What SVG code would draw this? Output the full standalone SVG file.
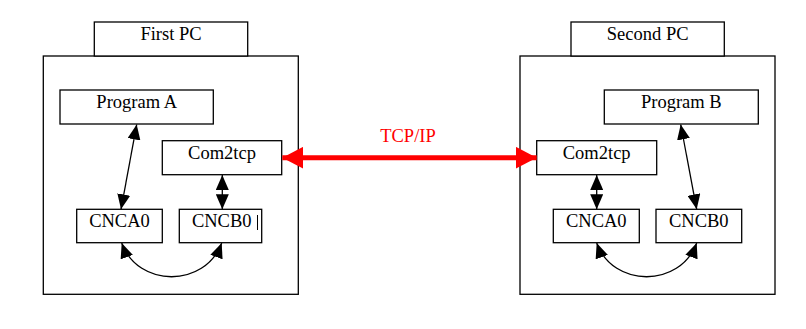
<svg xmlns="http://www.w3.org/2000/svg" width="806" height="329" viewBox="0 0 806 329">
<style>
.box{fill:#fff;stroke:#000;stroke-width:1.3}
.t{font-family:"Liberation Serif","Times New Roman",serif;font-size:18.5px;fill:#000;text-anchor:middle}
.c{fill:none;stroke:#000;stroke-width:1.3}
.tcp{fill:none;stroke:#f00;stroke-width:5}
</style>
<defs>
<marker id="ah" viewBox="0 0 15 13" refX="15" refY="6.5" markerWidth="15" markerHeight="13" markerUnits="userSpaceOnUse" orient="auto-start-reverse">
<path d="M0,0 L15,6.5 L0,13 z" fill="#000"/>
</marker>
<marker id="rh" viewBox="0 0 21 22" refX="21" refY="11" markerWidth="21" markerHeight="22" markerUnits="userSpaceOnUse" orient="auto-start-reverse">
<path d="M0,0 L21,11 L0,22 z" fill="#f00"/>
</marker>
</defs>
<rect width="806" height="329" fill="#fff"/>
<g id="first-pc">
<rect class="box" x="43.3" y="56" width="255" height="238.3"/>
<rect class="box" x="94.3" y="22" width="153.4" height="34"/>
<text class="t" x="171" y="40">First PC</text>
</g>
<g id="program-a">
<rect class="box" x="60" y="90" width="153.3" height="34"/>
<text class="t" x="136.7" y="108.3">Program A</text>
</g>
<g id="com2tcp-1">
<rect class="box" x="162.3" y="140.7" width="119.4" height="34"/>
<text class="t" x="222" y="159.3">Com2tcp</text>
</g>
<g id="cnca0-1">
<rect class="box" x="76.7" y="209.3" width="85.6" height="33.4"/>
<text class="t" x="119.5" y="226.7">CNCA0</text>
</g>
<g id="cncb0-1">
<rect class="box" x="179.3" y="209.3" width="82.4" height="33.4"/>
<text class="t" x="221.7" y="226.7">CNCB0</text>
<line x1="257.5" y1="215" x2="257.5" y2="230" stroke="#000" stroke-width="1"/>
</g>
<g id="second-pc">
<rect class="box" x="520" y="56" width="255" height="238.3"/>
<rect class="box" x="571" y="22" width="153.3" height="34"/>
<text class="t" x="647.7" y="40">Second PC</text>
</g>
<g id="program-b">
<rect class="box" x="604.3" y="90" width="154" height="34"/>
<text class="t" x="681.3" y="108.3">Program B</text>
</g>
<g id="com2tcp-2">
<rect class="box" x="536.7" y="140.7" width="120" height="34"/>
<text class="t" x="596.7" y="159.3">Com2tcp</text>
</g>
<g id="cnca0-2">
<rect class="box" x="553.3" y="209.3" width="86" height="33.4"/>
<text class="t" x="596.3" y="226.7">CNCA0</text>
</g>
<g id="cncb0-2">
<rect class="box" x="656" y="209.3" width="85.7" height="33.4"/>
<text class="t" x="698.8" y="226.7">CNCB0</text>
</g>
<g id="connectors">
<line class="c" x1="136.7" y1="124.5" x2="121" y2="209.3" marker-start="url(#ah)" marker-end="url(#ah)"/>
<line class="c" x1="222.3" y1="175" x2="222.3" y2="209.3" marker-start="url(#ah)" marker-end="url(#ah)"/>
<path class="c" d="M121.7,243 C138,288 205,288 221.7,243" marker-start="url(#ah)" marker-end="url(#ah)"/>
<line class="c" x1="680.7" y1="124.5" x2="696.7" y2="209.3" marker-start="url(#ah)" marker-end="url(#ah)"/>
<line class="c" x1="596.7" y1="175" x2="596.7" y2="209.3" marker-start="url(#ah)" marker-end="url(#ah)"/>
<path class="c" d="M596.7,243 C613,288 680,288 696.7,243" marker-start="url(#ah)" marker-end="url(#ah)"/>
<line class="tcp" x1="282.3" y1="157.7" x2="536.7" y2="157.7" marker-start="url(#rh)" marker-end="url(#rh)"/>
<text class="t" x="408" y="141.7" fill="#f00" style="fill:#f00">TCP/IP</text>
</g>
</svg>
